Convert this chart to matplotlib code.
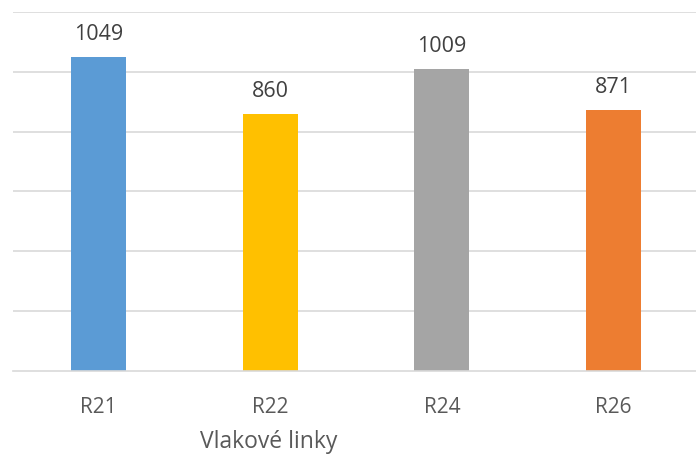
import matplotlib.pyplot as plt

lines = ["R21", "R22", "R24", "R26"]
counts = [1049, 860, 1009, 871]
colors = ["#5B9BD5", "#FFC000", "#A5A5A5", "#ED7D31"]

plt.rcParams["font.family"] = ["Open Sans", "DejaVu Sans"]

fig = plt.figure(figsize=(6.96, 4.54), dpi=100)
ax = fig.add_axes([12.6 / 696, 83 / 454, 683.4 / 696, 359 / 454])

x = range(len(lines))
ax.bar(x, counts, width=0.32, color=colors, zorder=2)

for i, v in enumerate(counts):
    ax.annotate(str(v), (i, v), xytext=(0, 12.2), textcoords="offset points",
                ha="center", va="baseline", fontsize=15.5, color="#404040")

ax.set_ylim(0, 1200)
ax.set_xlim(-0.5, 3.48)
ax.set_yticks(range(200, 1201, 200))
ax.yaxis.grid(True, color="#D9D9D9", linewidth=1.2, zorder=0)
ax.set_yticklabels([])
ax.tick_params(axis="y", length=0)
ax.set_xticks(list(x))
ax.set_xticklabels(lines, fontsize=15, color="#595959")
ax.tick_params(axis="x", length=0, pad=18.5)

for s in ["top", "right", "left"]:
    ax.spines[s].set_visible(False)
ax.spines["bottom"].set_color("#D9D9D9")
ax.spines["bottom"].set_linewidth(1.2)

fig.text(269 / 696, 1 - 448 / 454, "Vlakové linky", ha="center", va="baseline",
         fontsize=16.5, color="#595959")

fig.savefig("out.png", dpi=100)
